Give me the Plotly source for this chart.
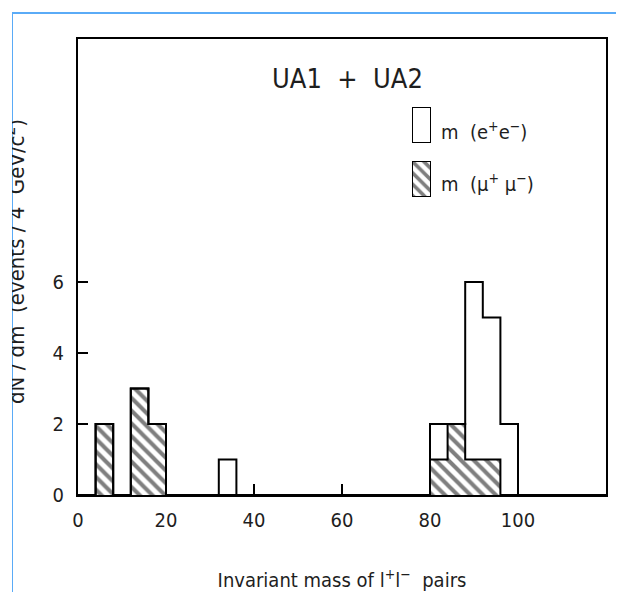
import numpy as np
import plotly.graph_objects as go

# ---- data ----
bin_width = 4  # GeV
mass_bin_low = [4, 12, 16, 32, 80, 84, 88, 92, 96]      # lower edge of each filled bin (GeV)
ee_events = [0, 0, 0, 1, 1, 0, 5, 4, 2]                 # m(e+e-) entries (stacked on top)
mumu_events = [2, 3, 2, 0, 1, 2, 1, 1, 0]               # m(mu+mu-) entries (hatched)
x_ticks = [0, 20, 40, 60, 80, 100]
y_ticks = [0, 2, 4, 6]
x_range = [0, 120]
y_range = [0, 12.85]

FONT = "DejaVu Sans Condensed, DejaVu Sans, sans-serif"
TXT = "#1e1e1e"

# full histogram arrays over the axis range, for the step outlines
edges = np.arange(x_range[0], x_range[1] + bin_width, bin_width)
mumu_full = np.zeros(len(edges) - 1)
total_full = np.zeros(len(edges) - 1)
for lo, e, m in zip(mass_bin_low, ee_events, mumu_events):
    i = int((lo - x_range[0]) // bin_width)
    mumu_full[i] += m
    total_full[i] += m + e

centers = [lo + bin_width / 2 for lo in mass_bin_low]

fig = go.Figure()

# hatched mu+mu- bars
fig.add_trace(go.Bar(
    x=centers, y=mumu_events, width=bin_width,
    marker=dict(color="white", line=dict(width=0),
                pattern=dict(shape="\\", fgcolor="black", bgcolor="white",
                             size=9, solidity=0.45)),
    showlegend=False, name="m (μ+μ−)"))
# open e+e- bars stacked on top
fig.add_trace(go.Bar(
    x=centers, y=ee_events, width=bin_width,
    marker=dict(color="white", line=dict(width=0)),
    showlegend=False, name="m (e+e−)"))

# step outlines
step_x = list(edges)
fig.add_trace(go.Scatter(
    x=step_x, y=list(total_full) + [0], mode="lines",
    line=dict(shape="hv", color="black", width=2), showlegend=False,
    hoverinfo="skip"))
fig.add_trace(go.Scatter(
    x=step_x, y=list(mumu_full) + [0], mode="lines",
    line=dict(shape="hv", color="black", width=2), showlegend=False,
    hoverinfo="skip"))

# ---- geometry (reference pixel coords; page body adds an 8px offset) ----
OFF = 8
L, T, W, H = 78, 39, 528, 456
FIG_W, FIG_H = 624 - OFF, 592 - OFF
def px_x(p):
    return (p - L) / W
def px_y(p):
    return (T + H - p) / H

# ---- legend swatches drawn as bars on small helper axes ----
sw_x = [px_x(412), px_x(431)]
fig.add_trace(go.Bar(x=[0], y=[1], width=1, xaxis="x2", yaxis="y2",
                     marker=dict(color="white", line=dict(color="black", width=2)),
                     cliponaxis=False, showlegend=False, hoverinfo="skip"))
fig.add_trace(go.Bar(x=[0], y=[1], width=1, xaxis="x3", yaxis="y3",
                     marker=dict(color="white", line=dict(color="black", width=2),
                                 pattern=dict(shape="\\", fgcolor="black", bgcolor="white",
                                              size=8, solidity=0.45)),
                     cliponaxis=False, showlegend=False, hoverinfo="skip"))

hidden = dict(visible=False, fixedrange=True)
fig.update_layout(
    xaxis2=dict(domain=sw_x, range=[-0.5, 0.5], anchor="y2", **hidden),
    yaxis2=dict(domain=[px_y(143), px_y(107)], range=[0, 1], anchor="x2", **hidden),
    xaxis3=dict(domain=sw_x, range=[-0.5, 0.5], anchor="y3", **hidden),
    yaxis3=dict(domain=[px_y(197), px_y(161)], range=[0, 1], anchor="x3", **hidden),
)

fig.update_layout(
    width=FIG_W, height=FIG_H,
    margin=dict(l=L - OFF, r=624 - L - W, t=T - OFF, b=592 - T - H, autoexpand=False),
    paper_bgcolor="white", plot_bgcolor="white",
    barmode="stack", bargap=0,
    font=dict(family=FONT, color=TXT, size=20),
    showlegend=False,
    xaxis=dict(range=x_range, tickvals=x_ticks, ticks="inside", ticklen=11,
               tickwidth=2, tickcolor="black", showline=True, linewidth=2,
               linecolor="black", mirror=True, showgrid=False, zeroline=False,
               automargin=False,
               tickfont=dict(size=20, family=FONT, color=TXT),
               ticklabelstandoff=6,
               title=dict(text="Invariant mass of l<sup>+</sup>l<sup>−</sup>&nbsp;&nbsp;pairs",
                          font=dict(size=20, family=FONT, color=TXT), standoff=42)),
    yaxis=dict(range=y_range, tickvals=y_ticks, ticks="inside", ticklen=10,
               tickwidth=2, tickcolor="black", showline=True, linewidth=2,
               linecolor="black", mirror=True, showgrid=False, zeroline=False,
               automargin=False,
               tickfont=dict(size=20, family=FONT, color=TXT),
               ticklabelstandoff=8),
)

annotations = [
    dict(text="UA1 &nbsp;+ &nbsp;UA2", x=px_x(347), y=px_y(78), xref="paper", yref="paper",
         showarrow=False, font=dict(size=27, family=FONT, color=TXT),
         xanchor="center", yanchor="middle"),
    dict(text="m &nbsp;(e<sup>+</sup>e<sup>−</sup>)", x=px_x(439), y=px_y(131),
         xref="paper", yref="paper", showarrow=False, xanchor="left", yanchor="middle",
         font=dict(size=20, family=FONT, color=TXT)),
    dict(text="m &nbsp;(μ<sup>+</sup> μ<sup>−</sup>)", x=px_x(439), y=px_y(183),
         xref="paper", yref="paper", showarrow=False, xanchor="left", yanchor="middle",
         font=dict(size=20, family=FONT, color=TXT)),
    # y-axis title (partly cut by the scan border, as in the reference)
    dict(text="dN / dm &nbsp;(events / 4 &nbsp;GeV/c<sup>2</sup>)", x=px_x(15), y=px_y(262),
         xref="paper", yref="paper", showarrow=False, textangle=-90,
         xanchor="center", yanchor="middle",
         font=dict(size=22, family=FONT, color=TXT)),
    # white cover to the left of the scan border
    dict(text=" ", x=px_x(OFF), y=1 + (T - OFF) / H, xref="paper", yref="paper",
         showarrow=False, xanchor="left", yanchor="top", width=4, height=FIG_H,
         bgcolor="white", borderpad=0, borderwidth=0),
]
fig.update_layout(annotations=annotations)

# scan border lines (light blue)
fig.add_shape(type="line", xref="paper", yref="paper",
              x0=px_x(12), x1=px_x(12), y0=px_y(13), y1=px_y(600),
              line=dict(color="#5aabf7", width=2))
fig.add_shape(type="line", xref="paper", yref="paper",
              x0=px_x(12), x1=px_x(630), y0=px_y(13), y1=px_y(13),
              line=dict(color="#5aabf7", width=2))

fig.write_html("out.html")
